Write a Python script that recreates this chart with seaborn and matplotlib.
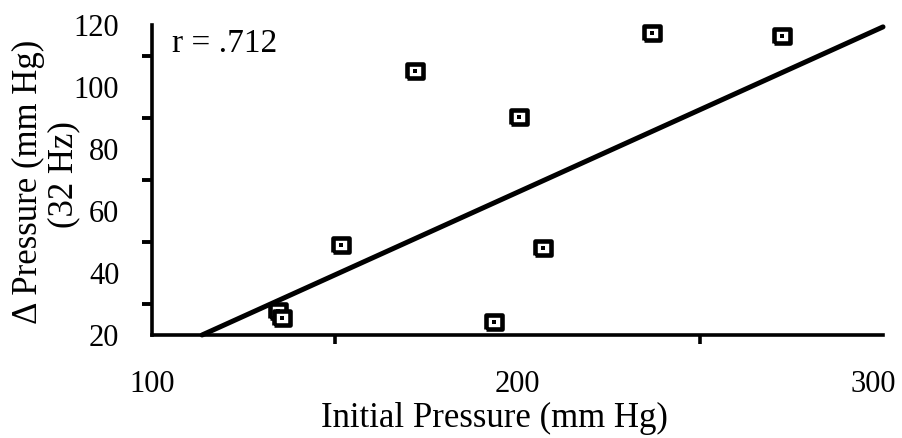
import matplotlib
matplotlib.use("Agg")
import matplotlib.pyplot as plt
import matplotlib.transforms as mtransforms
import numpy as np
import pandas as pd
import seaborn as sns

# Initial pressure (mm Hg) and pressure change at 32 Hz (mm Hg)
initial_pressure = [134.5, 135.6, 151.6, 172.0, 193.6, 200.4, 207.0, 236.8, 272.4]
delta_pressure = [27.7, 25.5, 49.0, 105.2, 24.2, 90.3, 48.1, 117.4, 116.5]

# Fitted line: delta = slope * initial + intercept
fit_slope = 0.5335
fit_intercept = -40.66
r_value = ".712"

x_ticks = [100, 200, 300]
x_minor = [150, 250]
y_ticks = [20, 40, 60, 80, 100, 120]
y_minor = [30, 50, 70, 90, 110]

sns.set_theme(style="white")
plt.rcParams["font.family"] = ["Liberation Serif", "DejaVu Serif"]

df = pd.DataFrame({"initial": initial_pressure, "delta": delta_pressure})

fig = plt.figure(figsize=(9.02, 4.38), dpi=100)
ax = fig.add_axes([152 / 902, 1 - 335 / 438, (883 - 152) / 902, (335 - 25) / 438])

ax.set_xlim(100, 300)
ax.set_ylim(20, 120)

# Regression line, starting where it meets the lower axis
x0 = (20 - fit_intercept) / fit_slope
line_x = np.array([x0, 300.0])
sns.lineplot(x=line_x, y=fit_slope * line_x + fit_intercept, ax=ax,
             color="black", linewidth=3.6, clip_on=False,
             solid_capstyle="round", zorder=2)

# Open rectangle markers with a dot in the middle
box = [(-0.5, -0.39), (0.5, -0.39), (0.5, 0.39), (-0.5, 0.39), (-0.5, -0.39)]
sns.scatterplot(data=df, x="initial", y="delta", ax=ax, marker=box,
                s=145, facecolor="white", edgecolor="black", linewidth=3.3,
                zorder=3, clip_on=False)
sns.scatterplot(data=df, x="initial", y="delta", ax=ax, marker="s",
                s=8, color="black", linewidth=0, zorder=4, clip_on=False)

sns.despine(ax=ax)
for side in ("left", "bottom"):
    ax.spines[side].set_linewidth(2.6)
    ax.spines[side].set_color("black")

ax.set_xticks(x_ticks)
ax.set_xticks(x_minor, minor=True)
ax.set_yticks(y_ticks)
ax.set_yticks(y_minor, minor=True)
ax.tick_params(axis="y", which="major", direction="out", length=12.5, width=2.8,
               color="black", pad=11, labelsize=22, labelcolor="black")
ax.tick_params(axis="y", which="minor", direction="out", length=7, width=2.8,
               color="black", left=True)
ax.tick_params(axis="x", which="major", direction="out", length=11, width=2.6,
               color="black", pad=14, labelsize=22, labelcolor="black")
ax.tick_params(axis="x", which="minor", direction="out", length=6.5, width=2.6,
               color="black", bottom=True)

# Pull the last x tick label slightly inward
last_label = ax.get_xticklabels()[-1]
last_label.set_transform(last_label.get_transform() +
                         mtransforms.ScaledTranslation(-10 / 100, 0, fig.dpi_scale_trans))

ax.set_xlabel("Initial Pressure (mm Hg)", fontsize=25, color="black", labelpad=2)
ax.xaxis.label.set_x(0.468)
ax.set_ylabel("")
fig.text(28 / 902, 1 - 182 / 438, "Δ Pressure (mm Hg)", rotation=90,
         ha="center", va="center", fontsize=25, color="black")
fig.text(64 / 902, 1 - 175 / 438, "(32 Hz)", rotation=90,
         ha="center", va="center", fontsize=25, color="black")

ax.text(0.027, 0.99, f"r = {r_value}", transform=ax.transAxes,
        ha="left", va="top", fontsize=24, color="black")

fig.savefig("out.png", dpi=100, facecolor="white")
